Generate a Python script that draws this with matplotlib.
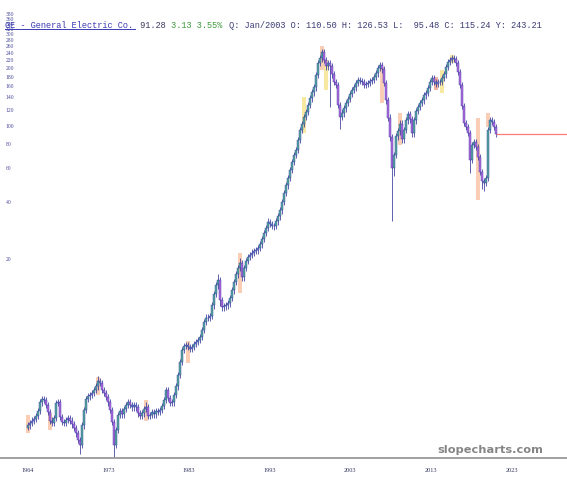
import matplotlib
matplotlib.use("Agg")
import matplotlib.pyplot as plt
import numpy as np
from matplotlib.transforms import blended_transform_factory
from matplotlib.patches import Rectangle
from matplotlib.lines import Line2D
from matplotlib.ticker import NullLocator

# ---------------- data (quarterly bars) ----------------
first_open = 2.65
closes = [
    2.75, 2.82, 2.90, 2.96, 3.07, 3.26, 3.63, 3.77, 3.72, 3.50,
    3.22, 2.90, 2.82, 3.00, 3.59, 3.63, 3.03, 2.86, 2.82, 2.93,
    3.00, 2.90, 2.78, 2.66, 2.50, 2.30, 2.17, 2.75, 3.30, 3.77,
    3.90, 3.95, 4.05, 4.20, 4.40, 4.68, 4.56, 4.20, 4.05, 3.86,
    3.63, 3.30, 2.86, 2.17, 2.60, 3.11, 3.26, 3.14, 3.34, 3.50,
    3.63, 3.50, 3.42, 3.50, 3.42, 3.18, 3.07, 3.18, 3.34, 3.42,
    3.07, 3.11, 3.22, 3.14, 3.26, 3.22, 3.30, 3.46, 3.72, 4.20,
    3.81, 3.59, 3.63, 3.95, 4.40, 5.02, 5.87, 6.78, 7.12, 7.20,
    7.03, 6.87, 7.03, 7.29, 7.47, 7.65, 7.93, 8.63, 9.50, 9.96,
    9.96, 10.2, 11.6, 13.3, 14.8, 15.7, 12.4, 11.4, 11.5, 11.6,
    11.9, 12.7, 13.9, 15.4, 16.9, 18.2, 19.3, 16.3, 18.2, 19.8,
    20.7, 21.2, 21.8, 22.3, 22.5, 23.1, 24.2, 25.7, 27.7, 29.4,
    31.6, 30.8, 30.1, 30.1, 31.9, 33.9, 36.4, 40.1, 44.7, 49.2,
    53.6, 59.0, 64.9, 70.6, 74.9, 84.5, 95.3, 102.4, 111.4, 118.3,
    128.7, 140.0, 150.4, 159.7, 184.5, 213.2, 226.3, 243.2, 221.0, 205.6,
    213.2, 205.6, 186.8, 169.6, 163.6, 128.7, 111.4, 116.9, 124.1, 131.8,
    138.3, 146.9, 154.1, 159.7, 167.6, 173.8, 171.7, 169.6, 163.6, 165.6,
    167.6, 171.7, 173.8, 180.1, 189.0, 200.6, 208.1, 198.3, 167.6, 136.7,
    110.1, 87.6, 60.4, 70.6, 88.7, 94.2, 102.4, 85.5, 95.3, 107.5,
    115.5, 108.8, 91.9, 107.5, 119.7, 125.6, 131.8, 136.7, 145.1, 148.6,
    157.8, 169.6, 178.0, 169.6, 165.6, 169.6, 169.6, 178.0, 186.8, 203.1,
    215.8, 221.0, 226.3, 223.6, 213.2, 191.3, 163.6, 127.2, 103.7, 98.8,
    91.9, 66.5, 79.6, 82.5, 77.7, 68.9, 57.5, 51.6, 50.4, 53.6,
    95.3, 107.5, 104.9, 98.8, 91.28,
]
highs = [
    2.86, 2.93, 3.02, 3.08, 3.19, 3.39, 3.78, 3.92, 3.92, 3.87,
    3.64, 3.35, 3.02, 3.12, 3.73, 3.78, 3.78, 3.15, 2.97, 3.05,
    3.12, 3.12, 3.02, 2.89, 2.77, 2.60, 2.39, 2.86, 3.43, 3.92,
    4.06, 4.11, 4.21, 4.37, 4.58, 4.95, 4.87, 4.74, 4.37, 4.21,
    4.01, 3.78, 3.43, 2.97, 2.70, 3.23, 3.39, 3.39, 3.47, 3.64,
    3.78, 3.78, 3.64, 3.64, 3.64, 3.56, 3.31, 3.31, 3.47, 3.62,
    3.56, 3.23, 3.35, 3.35, 3.39, 3.39, 3.43, 3.60, 3.87, 4.37,
    4.37, 3.96, 3.78, 4.11, 4.58, 5.22, 6.10, 7.05, 7.40, 7.49,
    7.49, 7.31, 7.31, 7.58, 7.77, 7.96, 8.25, 8.98, 9.88, 10.4,
    10.4, 10.6, 12.1, 13.8, 15.4, 16.9, 16.3, 12.9, 12.0, 12.1,
    12.4, 13.2, 14.5, 16.0, 17.6, 18.9, 20.4, 20.1, 18.9, 20.6,
    21.5, 22.0, 22.7, 23.2, 23.4, 24.0, 25.2, 26.7, 28.8, 30.6,
    33.0, 32.9, 32.0, 31.3, 33.2, 35.3, 37.9, 41.7, 46.5, 51.2,
    55.7, 61.4, 67.5, 73.4, 77.9, 87.9, 99.1, 106, 116, 123,
    134, 146, 156, 166, 192, 222, 235, 253, 253, 230,
    222, 222, 214, 194, 176, 170, 134, 122, 129, 137,
    144, 153, 160, 166, 174, 181, 181, 179, 176, 172,
    174, 179, 181, 187, 197, 209, 216, 216, 206, 174,
    142, 115, 91, 73, 92, 98, 108, 107, 99, 112,
    120, 120, 113, 112, 124, 131, 137, 142, 151, 155,
    164, 176, 185, 185, 176, 176, 176, 185, 194, 211,
    224, 230, 235, 235, 233, 222, 199, 170, 132, 108,
    103, 95.6, 82.8, 85.8, 85.8, 80.8, 71.7, 59.8, 53.7, 55.7,
    99, 112, 112, 109, 103,
]
lows = [
    2.58, 2.64, 2.71, 2.78, 2.84, 2.95, 3.13, 3.48, 3.57, 3.36,
    3.09, 2.78, 2.71, 2.71, 2.88, 3.45, 2.91, 2.75, 2.71, 2.71,
    2.81, 2.78, 2.67, 2.55, 2.40, 2.21, 1.95, 2.08, 2.64, 3.17,
    3.62, 3.74, 3.79, 3.89, 4.03, 4.22, 4.38, 4.03, 3.89, 3.71,
    3.48, 3.17, 2.75, 1.81, 2.08, 2.50, 2.99, 3.01, 3.01, 3.21,
    3.36, 3.36, 3.28, 3.28, 3.28, 3.05, 2.95, 2.95, 3.05, 3.21,
    2.95, 2.95, 2.99, 3.01, 3.01, 3.09, 3.09, 3.17, 3.32, 3.57,
    3.66, 3.45, 3.45, 3.48, 3.79, 4.22, 4.82, 5.64, 6.51, 6.84,
    6.75, 6.60, 6.60, 6.75, 7.00, 7.17, 7.34, 7.61, 8.28, 9.12,
    9.56, 9.56, 9.79, 11.1, 12.8, 14.2, 11.5, 10.9, 10.9, 11.0,
    11.1, 11.4, 12.2, 13.3, 14.8, 16.2, 17.5, 15.6, 15.6, 17.5,
    19.0, 19.9, 20.4, 20.9, 21.4, 21.6, 22.2, 23.2, 24.7, 26.6,
    28.2, 29.6, 28.9, 28.6, 28.9, 30.6, 32.5, 34.9, 38.5, 42.9,
    47.2, 51.5, 56.6, 62.3, 67.8, 71.9, 81.1, 91.5, 98.3, 107,
    114, 124, 134, 144, 153, 177, 205, 217, 212, 197,
    197, 126, 179, 163, 157, 124, 96, 107, 112, 119,
    127, 133, 141, 148, 153, 161, 165, 163, 157, 157,
    159, 161, 165, 167, 173, 181, 193, 190, 161, 131,
    106, 84, 32, 55, 68, 85, 90, 82, 82, 92,
    103, 104, 88, 88, 103, 115, 121, 127, 131, 139,
    143, 152, 163, 163, 159, 159, 163, 163, 171, 179,
    195, 207, 212, 215, 205, 184, 157, 122, 99.6, 94.8,
    88.2, 57, 63.8, 76.4, 74.6, 66.1, 55.2, 47, 46, 48.4,
    51.5, 91.5, 101, 94.8, 87.6,
]
# highlighted bars: bar index, box low, box high, colour kind
hl_index = [0, 11, 35, 59, 80, 106, 138, 147, 149, 177, 186, 204, 207, 212, 225, 230]
hl_low = [2.5, 2.6, 3.95, 2.9, 5.8, 13.5, 92, 196, 154, 132, 80, 154, 149, 213, 41, 99]
hl_high = [3.1, 3.2, 4.9, 3.7, 7.6, 21.8, 142, 263, 221, 203, 117, 180, 196, 235, 110, 117]
hl_kind = ["o", "o", "o", "o", "o", "o", "y", "o", "y", "o", "o", "r", "y", "y", "o", "o"]

year_labels = ["1964", "1973", "1983", "1993", "2003", "2013", "2023"]
ytick_values = [20, 40, 60, 80, 100, 120, 140, 160, 180, 200, 220, 240,
                260, 280, 300, 320, 340, 360, 380]

title_parts = ["GE - General Electric Co.", " 91.28", " 3.13 3.55%",
               " Q: Jan/2003 O: 110.50 H: 126.53 L:  95.48 C: 115.24 Y: 243.21"]
title_colors = ["#3b3bb5", "#3a3a60", "#3f9a3f", "#3b3b75"]

# ---------------- figure ----------------
W, H = 567, 480
fig = plt.figure(figsize=(W / 100, H / 100), dpi=100)
ax = fig.add_axes([0, 22 / H, 1, 458 / H])
ax.set_yscale("log")
ax.set_ylim(1.854, 454.3)
ax.set_xlim(-14, 269.5)

closes_a = np.array(closes)
opens_a = np.array([first_open] + closes[:-1])
xs = np.arange(len(closes))
navy = "#34379a"

cols = []
for o, c in zip(opens_a, closes_a):
    r = c / o
    if r > 1.03:
        cols.append("#52ab9c")
    elif r < 0.97:
        cols.append("#b46be2")
    else:
        cols.append("#6b86c8")

hl_colors = {"o": "#f7b48c", "y": "#f3dc70", "r": "#ef8a6a"}
for i, lo, hi, k in zip(hl_index, hl_low, hl_high, hl_kind):
    ax.add_patch(Rectangle((i - 1.15, lo), 2.3, hi - lo, facecolor=hl_colors[k],
                           edgecolor="none", alpha=0.65, zorder=1))

ax.vlines(xs, lows, highs, color=navy, lw=0.55, zorder=2)
ax.bar(xs, closes_a - opens_a, bottom=opens_a, width=0.95, color=cols,
       edgecolor=navy, linewidth=0.3, zorder=3)

ax.hlines(closes[-1], xs[-1], 269.5, color="#ff7a7a", lw=0.9, zorder=2)

for s in ["top", "left", "right"]:
    ax.spines[s].set_visible(False)
ax.spines["bottom"].set_color("#9a9a9a")
ax.spines["bottom"].set_linewidth(1.3)

ax.yaxis.set_major_locator(NullLocator())
ax.yaxis.set_minor_locator(NullLocator())
tick_pos = [k * 40.3 for k in range(len(year_labels))]
ax.set_xticks(tick_pos)
ax.set_xticklabels(year_labels, fontsize=4.4, family="Liberation Serif", color="#33335f")
ax.tick_params(axis="x", length=0, pad=7)

trans = blended_transform_factory(ax.transAxes, ax.transData)
for v in ytick_values:
    ax.text(6 / W, v, str(v), transform=trans, fontsize=4.1, family="Liberation Serif",
            color="#4a4a9a", ha="left", va="center", zorder=5)

# title line (monospace, multi-coloured)
fs = 6.25
cw = 0.6 * fs * 100 / 72  # char width in px
x0 = 5
n = 0
for part, colr in zip(title_parts, title_colors):
    fig.text((x0 + n * cw) / W, 1 - 25 / H, part, fontsize=fs, family="Liberation Mono",
             color=colr, ha="left", va="center")
    n += len(part)
fig.add_artist(Line2D([x0 / W, (x0 + len(title_parts[0]) * cw) / W],
                      [1 - 29.3 / H, 1 - 29.3 / H], color=title_colors[0], lw=0.7))

fig.text(490 / W, 1 - 450 / H, "slopecharts.com", fontsize=8.2, weight="bold",
         family="DejaVu Sans", color="#858585", ha="center", va="center")

fig.savefig("out.png", dpi=100)
